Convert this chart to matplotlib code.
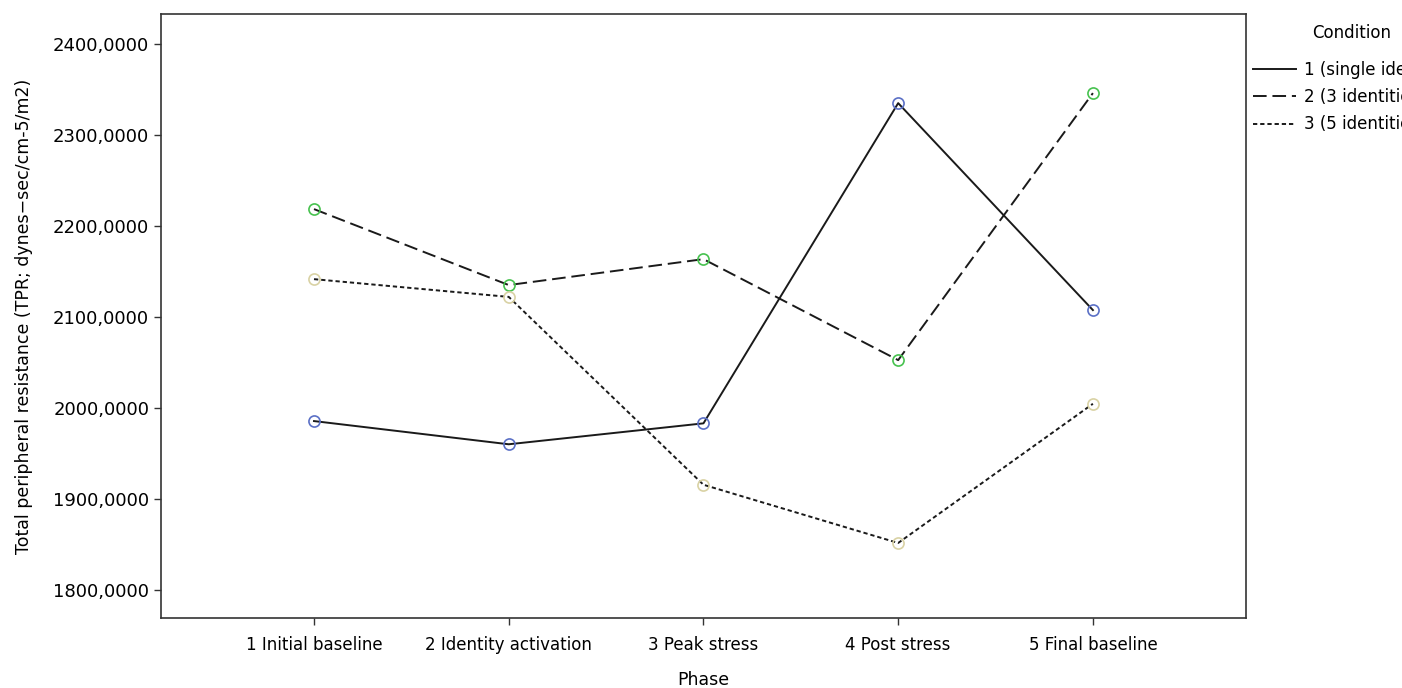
import matplotlib
matplotlib.use("Agg")
import matplotlib.pyplot as plt
from matplotlib.lines import Line2D
from matplotlib.ticker import FuncFormatter

phases = ["1 Initial baseline", "2 Identity activation", "3 Peak stress",
          "4 Post stress", "5 Final baseline"]
conditions = ["1 (single identity)", "2 (3 identities)", "3 (5 identities)"]
tpr_single = [1985.5, 1960.0, 1983.0, 2335.0, 2107.5]
tpr_three = [2218.5, 2135.0, 2163.5, 2052.5, 2346.0]
tpr_five = [2141.5, 2122.0, 1915.5, 1851.5, 2004.5]
y_ticks = [1800, 1900, 2000, 2100, 2200, 2300, 2400]

series = [tpr_single, tpr_three, tpr_five]
styles = ["-", (0, (7, 3)), (0, (2.2, 1.5))]
marker_cols = ["#5b70c6", "#47c24f", "#d9d2a4"]

plt.rcParams["font.family"] = ["DejaVu Sans"]

fig = plt.figure(figsize=(14.02, 6.88), dpi=100)
ax = fig.add_axes([0.1148, 0.1017, 0.7739, 0.878])

x = list(range(1, len(phases) + 1))
for vals, ls, mc in zip(series, styles, marker_cols):
    ax.plot(x, vals, color="#1a1a1a", linestyle=ls, linewidth=1.4,
            marker="o", markersize=8, markerfacecolor="none",
            markeredgecolor=mc, markeredgewidth=1.2)

ax.set_xlim(0.214, 5.786)
ax.set_ylim(1769, 2433)
ax.set_xticks(x)
ax.set_xticklabels(phases, fontsize=12)
ax.set_yticks(y_ticks)
ax.yaxis.set_major_formatter(FuncFormatter(lambda v, p: f"{v:.4f}".replace(".", ",")))
ax.tick_params(axis="y", labelsize=13, length=5, width=1, color="#333333")
ax.tick_params(axis="x", length=5, width=1, color="#333333", pad=8)
for s in ax.spines.values():
    s.set_color("#333333")
    s.set_linewidth(1.2)

ax.set_xlabel("Phase", fontsize=12.5, labelpad=12)
ax.set_ylabel("Total peripheral resistance (TPR; dynes\u2212sec/cm-5/m2)", fontsize=12.5, labelpad=14)

# legend sits outside the axes and runs off the right edge, as in the source
handles = [Line2D([0], [0], color="#1a1a1a", linestyle=ls, linewidth=1.4) for ls in styles]
leg = ax.legend(handles, conditions, loc="upper left", bbox_to_anchor=(1.0, 0.995),
                frameon=False, title="Condition", fontsize=12, title_fontsize=12,
                handlelength=2.6, handletextpad=0.5, labelspacing=0.55, borderaxespad=0.1,
                borderpad=0.3)
leg._legend_box.sep = 14

fig.savefig("out.png", dpi=100)
